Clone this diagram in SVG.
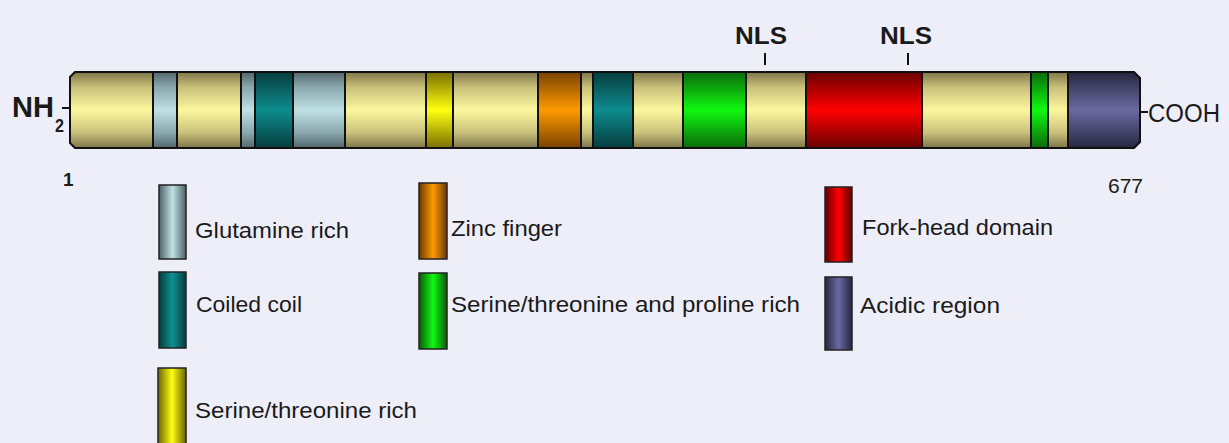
<svg xmlns="http://www.w3.org/2000/svg" width="1229" height="443" viewBox="0 0 1229 443">
<style>
.lbl{font-family:"Liberation Sans",Arial,sans-serif;fill:#1a1a1a}
.bold{font-family:"Liberation Sans",Arial,sans-serif;font-weight:bold;fill:#1a1a1a}
.sep{stroke:#111;stroke-width:2}
.sw{stroke:#222;stroke-width:1.5}
.tick{stroke:#111;stroke-width:2}
</style>
<defs>
<linearGradient id="gY" x1="0" y1="0" x2="0" y2="1"><stop offset="0" stop-color="#7e7648"/><stop offset="0.2" stop-color="#c9c07a"/><stop offset="0.5" stop-color="#fbf79e"/><stop offset="0.8" stop-color="#c9c07a"/><stop offset="1" stop-color="#7e7648"/></linearGradient>
<linearGradient id="gQ" x1="0" y1="0" x2="0" y2="1"><stop offset="0" stop-color="#52666c"/><stop offset="0.2" stop-color="#8aa8ae"/><stop offset="0.5" stop-color="#bfe0e4"/><stop offset="0.8" stop-color="#8aa8ae"/><stop offset="1" stop-color="#52666c"/></linearGradient>
<linearGradient id="gT" x1="0" y1="0" x2="0" y2="1"><stop offset="0" stop-color="#063c3e"/><stop offset="0.5" stop-color="#0e8c8e"/><stop offset="1" stop-color="#063c3e"/></linearGradient>
<linearGradient id="gS" x1="0" y1="0" x2="0" y2="1"><stop offset="0" stop-color="#7a7000"/><stop offset="0.5" stop-color="#ffff10"/><stop offset="1" stop-color="#7a7000"/></linearGradient>
<linearGradient id="gO" x1="0" y1="0" x2="0" y2="1"><stop offset="0" stop-color="#7a4200"/><stop offset="0.5" stop-color="#ff9a00"/><stop offset="1" stop-color="#7a4200"/></linearGradient>
<linearGradient id="gG" x1="0" y1="0" x2="0" y2="1"><stop offset="0" stop-color="#0a6a0a"/><stop offset="0.5" stop-color="#10f810"/><stop offset="1" stop-color="#0a6a0a"/></linearGradient>
<linearGradient id="gR" x1="0" y1="0" x2="0" y2="1"><stop offset="0" stop-color="#6a0000"/><stop offset="0.5" stop-color="#ff0000"/><stop offset="1" stop-color="#6a0000"/></linearGradient>
<linearGradient id="gA" x1="0" y1="0" x2="0" y2="1"><stop offset="0" stop-color="#262640"/><stop offset="0.5" stop-color="#6a6aa2"/><stop offset="1" stop-color="#262640"/></linearGradient>
<linearGradient id="hQ" x1="0" y1="0" x2="1" y2="0"><stop offset="0" stop-color="#4e6266"/><stop offset="0.5" stop-color="#bfe0e4"/><stop offset="1" stop-color="#4e6266"/></linearGradient>
<linearGradient id="hT" x1="0" y1="0" x2="1" y2="0"><stop offset="0" stop-color="#063c3e"/><stop offset="0.5" stop-color="#0e9090"/><stop offset="1" stop-color="#063c3e"/></linearGradient>
<linearGradient id="hS" x1="0" y1="0" x2="1" y2="0"><stop offset="0" stop-color="#6a6400"/><stop offset="0.5" stop-color="#ffff10"/><stop offset="1" stop-color="#6a6400"/></linearGradient>
<linearGradient id="hO" x1="0" y1="0" x2="1" y2="0"><stop offset="0" stop-color="#6a3a00"/><stop offset="0.5" stop-color="#ff9a00"/><stop offset="1" stop-color="#6a3a00"/></linearGradient>
<linearGradient id="hG" x1="0" y1="0" x2="1" y2="0"><stop offset="0" stop-color="#0a5a0a"/><stop offset="0.5" stop-color="#10f810"/><stop offset="1" stop-color="#0a5a0a"/></linearGradient>
<linearGradient id="hR" x1="0" y1="0" x2="1" y2="0"><stop offset="0" stop-color="#600000"/><stop offset="0.5" stop-color="#ff0000"/><stop offset="1" stop-color="#600000"/></linearGradient>
<linearGradient id="hA" x1="0" y1="0" x2="1" y2="0"><stop offset="0" stop-color="#262640"/><stop offset="0.5" stop-color="#6a6aa2"/><stop offset="1" stop-color="#262640"/></linearGradient>
<clipPath id="barClip"><path d="M75,72 L1134,72 L1140,78 L1140,142 L1134,148 L75,148 L70,143 L70,77 Z"/></clipPath>
</defs>
<rect width="1229" height="443" fill="#eeeef9"/>

<g id="protein">
<g clip-path="url(#barClip)">
<rect x="70" y="72" width="83" height="76" fill="url(#gY)"/>
<rect x="153" y="72" width="24" height="76" fill="url(#gQ)"/>
<rect x="177" y="72" width="64" height="76" fill="url(#gY)"/>
<rect x="241" y="72" width="14" height="76" fill="url(#gQ)"/>
<rect x="255" y="72" width="38" height="76" fill="url(#gT)"/>
<rect x="293" y="72" width="52" height="76" fill="url(#gQ)"/>
<rect x="345" y="72" width="81" height="76" fill="url(#gY)"/>
<rect x="426" y="72" width="27" height="76" fill="url(#gS)"/>
<rect x="453" y="72" width="85" height="76" fill="url(#gY)"/>
<rect x="538" y="72" width="43" height="76" fill="url(#gO)"/>
<rect x="581" y="72" width="12" height="76" fill="url(#gY)"/>
<rect x="593" y="72" width="40" height="76" fill="url(#gT)"/>
<rect x="633" y="72" width="50" height="76" fill="url(#gY)"/>
<rect x="683" y="72" width="63" height="76" fill="url(#gG)"/>
<rect x="746" y="72" width="60" height="76" fill="url(#gY)"/>
<rect x="806" y="72" width="116" height="76" fill="url(#gR)"/>
<rect x="922" y="72" width="109" height="76" fill="url(#gY)"/>
<rect x="1031" y="72" width="17" height="76" fill="url(#gG)"/>
<rect x="1048" y="72" width="20" height="76" fill="url(#gY)"/>
<rect x="1068" y="72" width="72" height="76" fill="url(#gA)"/>
</g>
<g class="sep">
<line x1="153" y1="72" x2="153" y2="148"/><line x1="177" y1="72" x2="177" y2="148"/>
<line x1="241" y1="72" x2="241" y2="148"/><line x1="255" y1="72" x2="255" y2="148"/>
<line x1="293" y1="72" x2="293" y2="148"/><line x1="345" y1="72" x2="345" y2="148"/>
<line x1="426" y1="72" x2="426" y2="148"/><line x1="453" y1="72" x2="453" y2="148"/>
<line x1="538" y1="72" x2="538" y2="148"/><line x1="581" y1="72" x2="581" y2="148"/>
<line x1="593" y1="72" x2="593" y2="148"/><line x1="633" y1="72" x2="633" y2="148"/>
<line x1="683" y1="72" x2="683" y2="148"/><line x1="746" y1="72" x2="746" y2="148"/>
<line x1="806" y1="72" x2="806" y2="148"/><line x1="922" y1="72" x2="922" y2="148"/>
<line x1="1031" y1="72" x2="1031" y2="148"/><line x1="1048" y1="72" x2="1048" y2="148"/>
<line x1="1068" y1="72" x2="1068" y2="148"/>
</g>
<path d="M75,72 L1134,72 L1140,78 L1140,142 L1134,148 L75,148 L70,143 L70,77 Z" fill="none" stroke="#111" stroke-width="2"/>
</g>

<g id="terminals">
<text class="bold" x="12" y="117" style="font-size:30px" textLength="42" lengthAdjust="spacingAndGlyphs">NH</text>
<text class="bold" x="55" y="132" style="font-size:19px" textLength="9" lengthAdjust="spacingAndGlyphs">2</text>
<text class="lbl" x="1148" y="122" style="font-size:26px" textLength="72" lengthAdjust="spacingAndGlyphs">COOH</text>
<text class="bold" x="63" y="186" style="font-size:19px">1</text>
<text class="lbl" x="1108" y="193" style="font-size:21px" textLength="35" lengthAdjust="spacingAndGlyphs">677</text>
</g>

<g id="nls">
<text class="bold" x="735" y="44" style="font-size:23px" textLength="52" lengthAdjust="spacingAndGlyphs">NLS</text>
<text class="bold" x="880" y="44" style="font-size:23px" textLength="52" lengthAdjust="spacingAndGlyphs">NLS</text>
</g>

<g id="connectors">
<line class="tick" x1="62" y1="108" x2="70" y2="108"/>
<line class="tick" x1="1140" y1="112" x2="1148" y2="112"/>
<line class="tick" x1="765" y1="53" x2="765" y2="65"/>
<line class="tick" x1="908" y1="53" x2="908" y2="65"/>
</g>

<g id="legend-glutamine">
<rect class="sw" x="159" y="185" width="27" height="74" fill="url(#hQ)"/>
<text class="lbl" x="195" y="238" style="font-size:22px" textLength="154" lengthAdjust="spacingAndGlyphs">Glutamine rich</text>
</g>
<g id="legend-coiled">
<rect class="sw" x="159" y="272" width="27" height="76" fill="url(#hT)"/>
<text class="lbl" x="196" y="312" style="font-size:22px" textLength="106" lengthAdjust="spacingAndGlyphs">Coiled coil</text>
</g>
<g id="legend-serthr">
<rect class="sw" x="158" y="368" width="28" height="76" fill="url(#hS)"/>
<text class="lbl" x="195" y="418" style="font-size:22px" textLength="222" lengthAdjust="spacingAndGlyphs">Serine/threonine rich</text>
</g>
<g id="legend-zinc">
<rect class="sw" x="419" y="183" width="28" height="76" fill="url(#hO)"/>
<text class="lbl" x="451" y="236" style="font-size:22px" textLength="111" lengthAdjust="spacingAndGlyphs">Zinc finger</text>
</g>
<g id="legend-stp">
<rect class="sw" x="419" y="273" width="28" height="76" fill="url(#hG)"/>
<text class="lbl" x="451" y="312" style="font-size:22px" textLength="349" lengthAdjust="spacingAndGlyphs">Serine/threonine and proline rich</text>
</g>
<g id="legend-forkhead">
<rect class="sw" x="825" y="187" width="27" height="75" fill="url(#hR)"/>
<text class="lbl" x="862" y="235" style="font-size:22px" textLength="191" lengthAdjust="spacingAndGlyphs">Fork-head domain</text>
</g>
<g id="legend-acidic">
<rect class="sw" x="825" y="277" width="27" height="73" fill="url(#hA)"/>
<text class="lbl" x="860" y="313" style="font-size:22px" textLength="140" lengthAdjust="spacingAndGlyphs">Acidic region</text>
</g>
</svg>
